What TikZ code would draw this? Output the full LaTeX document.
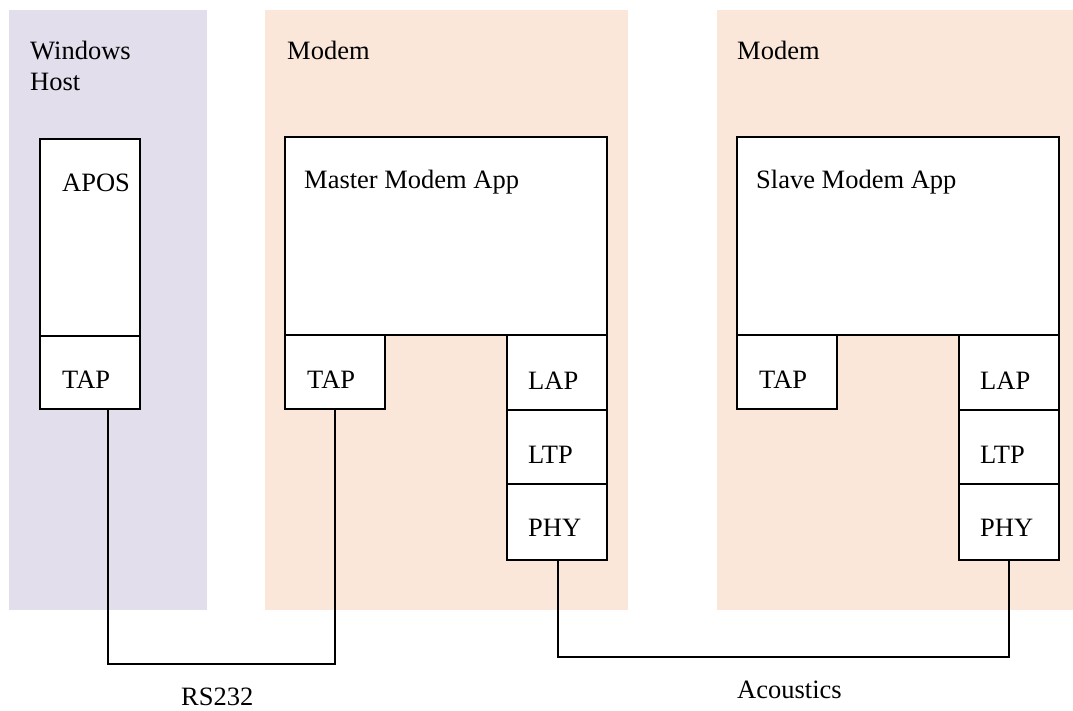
\documentclass[tikz,border=0pt]{standalone}
\usepackage{fontspec}
\setmainfont{Liberation Serif}
\definecolor{hostbg}{RGB}{227,222,236}
\definecolor{modembg}{RGB}{251,231,217}
\begin{document}
\begin{tikzpicture}[x=1pt,y=-1pt,
  panel/.style={inner sep=0pt, outer sep=0pt, draw=none},
  box/.style={draw=black, line width=1.2pt, fill=white, inner sep=0pt, outer sep=0pt},
  lbl/.style={anchor=base west, inner sep=0pt, font=\fontsize{26.5}{31}\selectfont},
  wire/.style={draw=black, line width=1.2pt}]
\useasboundingbox (0,0) rectangle (1073,711);
% panels
\node[panel, fill=hostbg, minimum width=198pt, minimum height=600pt] (host) at (108,310) {};
\node[panel, fill=modembg, minimum width=363pt, minimum height=600pt] (modemA) at (446.5,310) {};
\node[panel, fill=modembg, minimum width=356pt, minimum height=600pt] (modemB) at (895,310) {};
% host boxes
\node[box, minimum width=100pt, minimum height=197pt] (apos) at (90,237.5) {};
\node[box, minimum width=100pt, minimum height=73pt] (wtap) at (90,372.5) {};
% master boxes
\node[box, minimum width=322pt, minimum height=198pt] (mapp) at (446,236) {};
\node[box, minimum width=100pt, minimum height=74pt] (mtap) at (335,372) {};
\node[box, minimum width=100pt, minimum height=75pt] (mlap) at (557,372.5) {};
\node[box, minimum width=100pt, minimum height=74pt] (mltp) at (557,447) {};
\node[box, minimum width=100pt, minimum height=76pt] (mphy) at (557,522) {};
% slave boxes
\node[box, minimum width=322pt, minimum height=198pt] (sapp) at (898,236) {};
\node[box, minimum width=100pt, minimum height=74pt] (stap) at (787,372) {};
\node[box, minimum width=100pt, minimum height=75pt] (slap) at (1009,372.5) {};
\node[box, minimum width=100pt, minimum height=74pt] (sltp) at (1009,447) {};
\node[box, minimum width=100pt, minimum height=76pt] (sphy) at (1009,522) {};
% labels
\node[lbl] (hostl1) at (30,60) {Windows};
\node[lbl] (hostl2) at (30,91) {Host};
\node[lbl] (modemAl) at (287,60) {Modem};
\node[lbl] (modemBl) at (737,60) {Modem};
\node[lbl] (aposl) at (62,192) {APOS};
\node[lbl] (wtapl) at (62,388) {TAP};
\node[lbl] (mappl) at (304,189) {Master Modem App};
\node[lbl] (mtapl) at (307,388) {TAP};
\node[lbl] (mlapl) at (528,389) {LAP};
\node[lbl] (mltpl) at (528,463) {LTP};
\node[lbl] (mphyl) at (528,536) {PHY};
\node[lbl] (sappl) at (756,189) {Slave Modem App};
\node[lbl] (stapl) at (759,388) {TAP};
\node[lbl] (slapl) at (980,389) {LAP};
\node[lbl] (sltpl) at (980,463) {LTP};
\node[lbl] (sphyl) at (980,536) {PHY};
\node[lbl] (rsl) at (181,705) {RS232};
\node[lbl] (acl) at (737,698) {Acoustics};
% connectors
\coordinate (rsbend) at (108,664);
\coordinate (acbend) at (558,657);
\draw[wire] ([xshift=18pt]wtap.south) -- (rsbend) -| (mtap.south);
\draw[wire] ([xshift=1pt]mphy.south) |- (acbend) -| (sphy.south);
\end{tikzpicture}
\end{document}
